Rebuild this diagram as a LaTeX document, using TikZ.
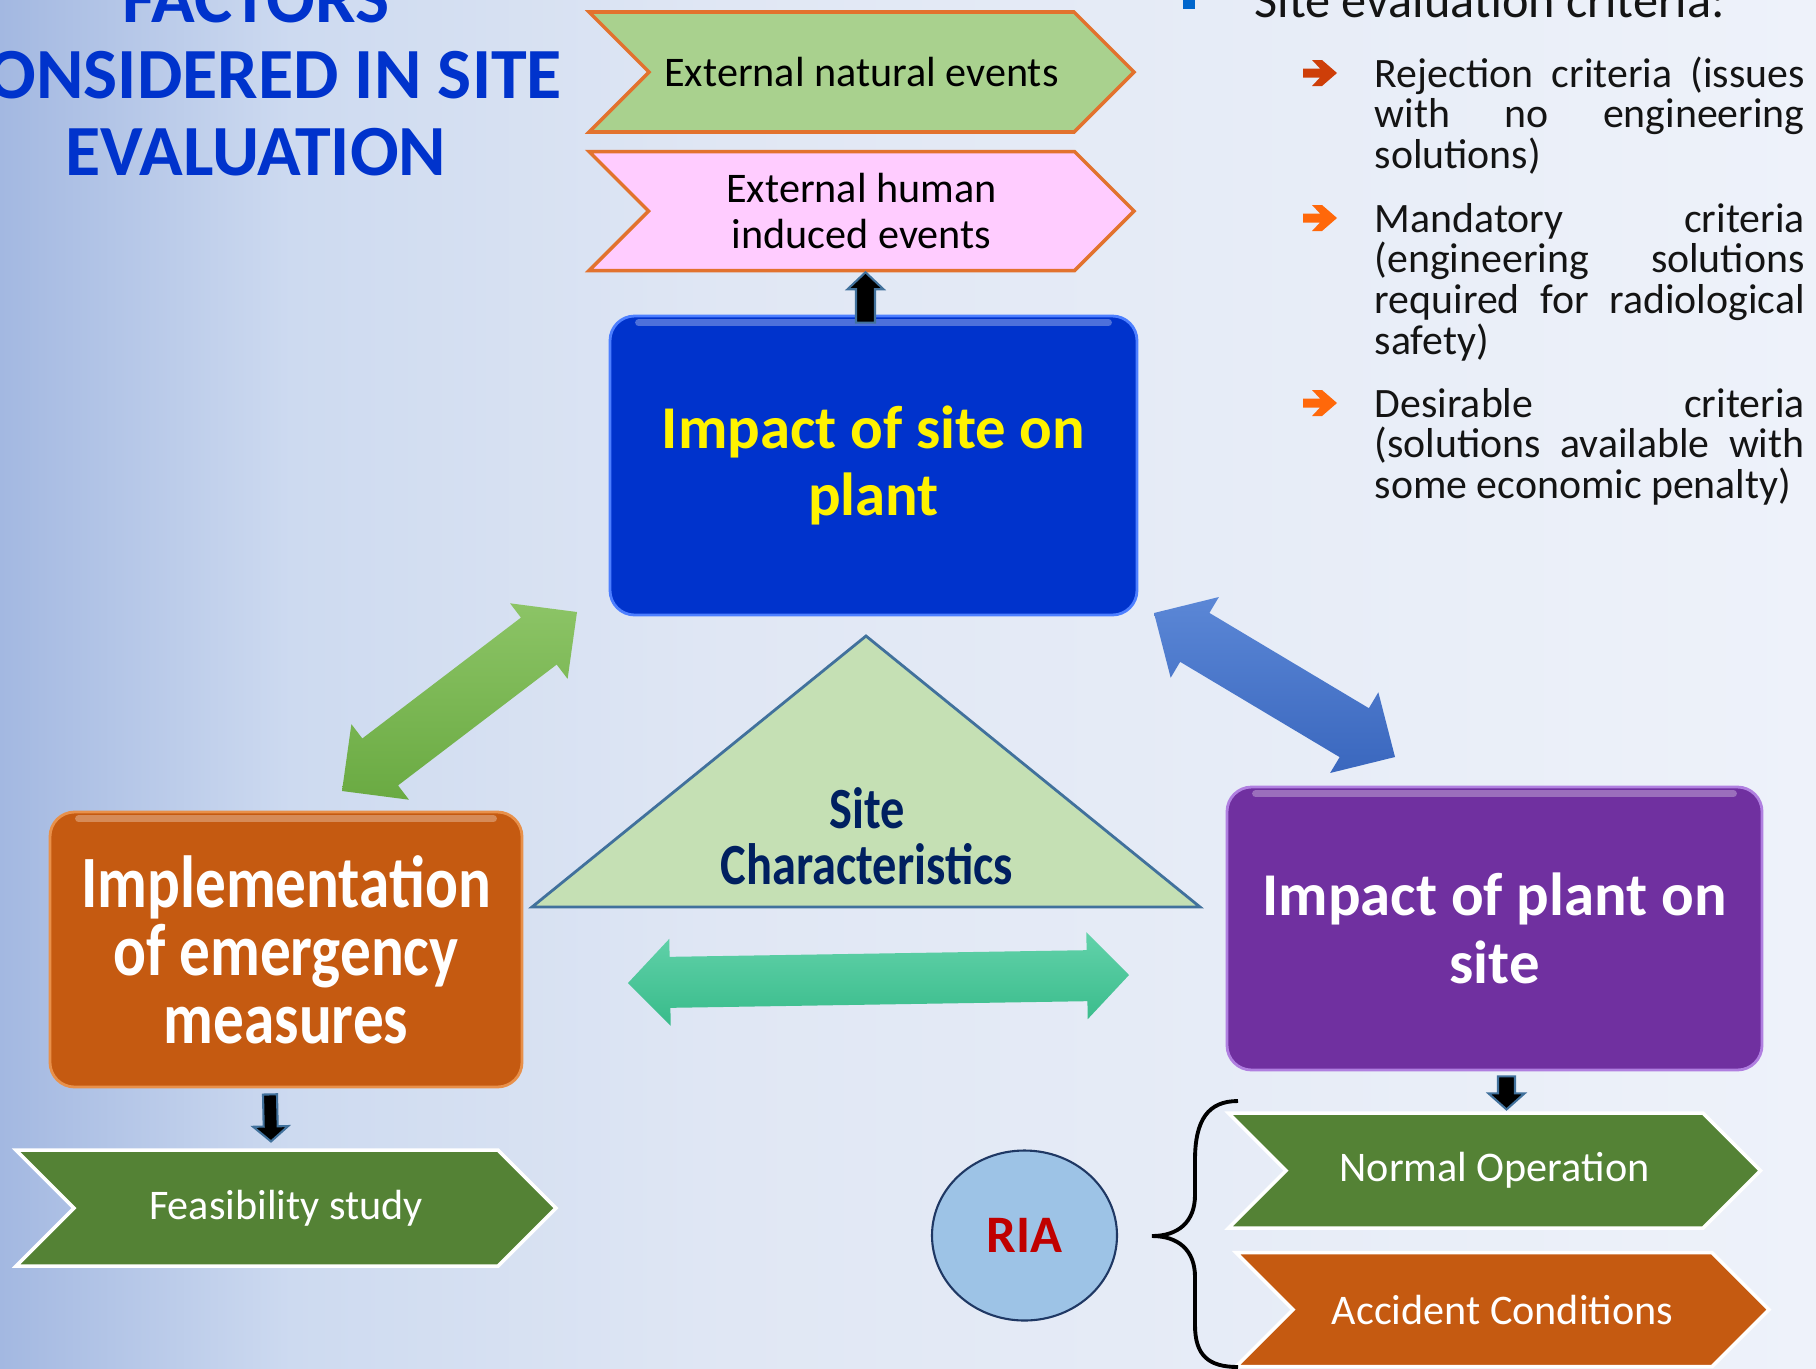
\documentclass[tikz,border=0pt]{standalone}
\usepackage{fontspec}
\setmainfont{Carlito}
\newfontfamily\narrowfont[FakeStretch=0.83]{Carlito}
\usetikzlibrary{positioning}
\usetikzlibrary{calc}
\usetikzlibrary{shapes.symbols}
\usetikzlibrary{shapes.geometric}

\hbadness=10000
\tolerance=10000
\hyphenpenalty=10000

\definecolor{bgleft}{RGB}{163,184,225}
\definecolor{bgmidA}{RGB}{205,218,240}
\definecolor{bgmidB}{RGB}{224,231,244}
\definecolor{bgright}{RGB}{238,242,250}
\definecolor{titleblue}{RGB}{0,51,204}
\definecolor{listtext}{RGB}{20,20,20}
\definecolor{critred}{RGB}{206,62,8}
\definecolor{critorange}{RGB}{255,104,10}
\definecolor{bulletblue}{RGB}{0,102,204}
\definecolor{natgreen}{HTML}{A9D18E}
\definecolor{humanpink}{HTML}{FFCCFF}
\definecolor{evorange}{RGB}{226,114,46}
\definecolor{siteblue}{HTML}{0033CC}
\definecolor{siteedge}{HTML}{4D7FFF}
\definecolor{plantpurple}{HTML}{7030A0}
\definecolor{purpleedge}{HTML}{B07FE0}
\definecolor{emorange}{HTML}{C55A11}
\definecolor{orangeedge}{HTML}{E8904A}
\definecolor{opgreen}{HTML}{548235}
\definecolor{tritext}{HTML}{002060}
\definecolor{trifill}{HTML}{C5E0B4}
\definecolor{steeledge}{HTML}{41719C}
\definecolor{riablue}{HTML}{9DC3E6}
\definecolor{rianavy}{HTML}{1F3864}
\definecolor{riared}{HTML}{C00000}
\definecolor{greentop}{HTML}{8CC466}
\definecolor{greenbot}{HTML}{6AAA42}
\definecolor{bluetop}{HTML}{5B87D6}
\definecolor{bluebot}{HTML}{3A67BE}
\definecolor{tealtop}{HTML}{62D2AA}
\definecolor{tealbot}{HTML}{38BB8A}

\pgfdeclarehorizontalshading{slidebg}{100bp}{color(0bp)=(bgleft); color(25bp)=(bgleft);
  color(33bp)=(bgmidA); color(45bp)=(bgmidB); color(75bp)=(bgright); color(100bp)=(bgright)}

\tikzset{chevron/.style={signal, signal to=east, signal from=west, signal pointer angle=90,
minimum width=5.45cm, minimum height=1.2cm, inner sep=0pt, line width=1pt,
align=center, font=\fontsize{12}{13.3}\selectfont}}
\tikzset{bigbox/.style={rectangle, rounded corners=7pt, line width=0.8pt, inner sep=0pt,
align=center, font=\bfseries\fontsize{17.3}{19.3}\selectfont}}
\tikzset{gloss/.style={draw=white, opacity=0.3, line width=2pt, line cap=round}}
\tikzset{critem/.style={anchor=base west, inner sep=0pt, text=listtext,
font=\fontsize{11.9}{11.6}\selectfont}}
\tikzset{smallarrow/.style={fill=black, draw=steeledge, line width=0.6pt}}
\tikzset{curlybrace/.style={draw=black, line width=1.1pt}}

% fat arrow with one head: style, tail, tip, head length, head half width, shaft half width
\newcommand{\blockarrow}[6][]{%
  \filldraw[#1] (#2) -- ($(#2)!#6!90:(#3)$) -- ($(#3)!#4!(#2)!#6!-90:(#2)$)
    -- ($(#3)!#4!(#2)!#5!-90:(#2)$) -- (#3) -- ($(#3)!#4!(#2)!#5!90:(#2)$)
    -- ($(#3)!#4!(#2)!#6!90:(#2)$) -- ($(#2)!#6!-90:(#3)$) -- cycle;}
% fat arrow with two heads, same arguments
\newcommand{\doublearrow}[6][]{%
  \shade[#1] (#2) -- ($(#2)!#4!(#3)!#5!90:(#3)$) -- ($(#2)!#4!(#3)!#6!90:(#3)$)
    -- ($(#3)!#4!(#2)!#6!-90:(#2)$) -- ($(#3)!#4!(#2)!#5!-90:(#2)$) -- (#3)
    -- ($(#3)!#4!(#2)!#5!90:(#2)$) -- ($(#3)!#4!(#2)!#6!90:(#2)$)
    -- ($(#2)!#4!(#3)!#6!-90:(#3)$) -- ($(#2)!#4!(#3)!#5!-90:(#3)$) -- cycle;}
% light band along the top of a box
\newcommand{\glossy}[1]{%
  \draw[gloss] ([xshift=0.3cm,yshift=-0.08cm]#1.north west) -- ([xshift=-0.3cm,yshift=-0.08cm]#1.north east);}
% bullet arrow in front of a criterion
\newcommand{\critarrow}[2]{%
  \fill[#1, shift={([xshift=-0.71cm,yshift=0.14cm]#2.base west)}]
    (0,0.045) -- (0.17,0.045) -- (0.09,0.13) -- (0.19,0.13) -- (0.34,0)
    -- (0.19,-0.13) -- (0.09,-0.13) -- (0.17,-0.045) -- (0,-0.045) -- cycle;}

\begin{document}
\begin{tikzpicture}

    \useasboundingbox (0,0) rectangle (18.16,-13.68);
    \clip (0,0) rectangle (18.16,-13.68);
    \shade[shading=slidebg] (0,0) rectangle (18.16,-13.68);

    % heading
    \node[anchor=base, inner sep=0pt, text=titleblue, font=\bfseries\fontsize{20.5}{21.9}\selectfont] (title) at (2.56,-0.22)
        {\parbox[t]{8cm}{\centering FACTORS\\CONSIDERED IN SITE\\EVALUATION}};

    % external events
    \node[chevron, fill=natgreen, draw=evorange] (natural) at (8.615,-0.72) {External natural events};
    \node[chevron, fill=humanpink, draw=evorange, minimum height=1.19cm, below=0.16cm of natural] (human) {External human\\induced events};

    % the three main boxes
    \node[bigbox, fill=siteblue, draw=siteedge, text=yellow, minimum width=5.27cm, minimum height=2.99cm] (siteonplant) at (8.735,-4.655) {Impact of site on\\plant};
    \node[bigbox, fill=plantpurple, draw=purpleedge, text=white, minimum width=5.35cm, minimum height=2.83cm] (plantonsite) at (14.945,-9.285) {Impact of plant on\\site};
    \node[bigbox, fill=emorange, draw=orangeedge, text=white, minimum width=4.72cm, minimum height=2.75cm,
        font=\narrowfont\bfseries\fontsize{21}{19.3}\selectfont] (emergency) at (2.86,-9.495) {Implementation\\of emergency\\measures};
    \glossy{siteonplant}
    \glossy{plantonsite}
    \glossy{emergency}

    % outcomes
    \node[chevron, fill=opgreen, draw=white, text=white, minimum width=5.40cm, minimum height=1.16cm, below=0.6cm of emergency] (feasibility) {Feasibility study};
    \node[chevron, fill=opgreen, draw=white, text=white, minimum width=5.32cm, minimum height=1.15cm, below=0.4cm of plantonsite] (normalop) {Normal Operation};
    \node[chevron, fill=emorange, draw=white, text=white, minimum width=5.33cm, minimum height=1.14cm, below=0.21cm of normalop, xshift=0.08cm] (accident) {Accident Conditions};

    % site characteristics
    \filldraw[fill=trifill, draw=steeledge, line width=0.8pt] (5.32,-9.07) -- (8.66,-6.36) -- (12.00,-9.07) -- cycle;
    \node[anchor=base, inner sep=0pt, text=tritext, font=\narrowfont\bfseries\fontsize{16.6}{16.2}\selectfont] (sitechar) at (8.67,-8.28)
        {\parbox[t]{4cm}{\centering Site\\Characteristics}};

    % links between the boxes
    \coordinate (greenlow) at (3.42,-7.91);
    \coordinate (greenhigh) at (5.77,-6.12);
    \doublearrow[top color=greentop, bottom color=greenbot]{greenlow}{greenhigh}{0.48cm}{0.475cm}{0.295cm}
    \coordinate (bluehigh) at (11.54,-6.13);
    \coordinate (bluelow) at (13.95,-7.57);
    \doublearrow[top color=bluetop, bottom color=bluebot]{bluehigh}{bluelow}{0.475cm}{0.47cm}{0.285cm}
    \coordinate (tealleft) at (6.28,-9.83);
    \coordinate (tealright) at (11.29,-9.75);
    \doublearrow[top color=tealtop, bottom color=tealbot]{tealleft}{tealright}{0.42cm}{0.435cm}{0.255cm}

    \coordinate (upTail) at ($(siteonplant.north -| human.south)+(0.04,-0.08)$);
    \coordinate (upTip) at ($(human.south)+(0.04,0)$);
    \blockarrow[smallarrow]{upTail}{upTip}{0.17cm}{0.18cm}{0.095cm}
    \coordinate (emTail) at ($(emergency.south)+(-0.16,-0.06)$);
    \coordinate (emTip) at ($(feasibility.north)+(-0.15,0.07)$);
    \blockarrow[smallarrow]{emTail}{emTip}{0.15cm}{0.175cm}{0.07cm}
    \coordinate (plTail) at ($(plantonsite.south)+(0.12,-0.05)$);
    \coordinate (plTip) at ($(normalop.north)+(0.12,0.02)$);
    \blockarrow[smallarrow]{plTail}{plTip}{0.16cm}{0.18cm}{0.085cm}

    % radiological impact
    \node[ellipse, fill=riablue, draw=rianavy, line width=0.6pt, minimum width=1.85cm, minimum height=1.70cm,
        text=riared, font=\bfseries\fontsize{15}{15}\selectfont] (ria) at (10.245,-12.355) {RIA};
    \draw[curlybrace] (12.38,-11.01) .. controls (12.08,-11.01) and (11.95,-11.2) .. (11.95,-11.6)
        -- (11.95,-11.95) .. controls (11.95,-12.22) and (11.78,-12.36) .. (11.52,-12.36)
        .. controls (11.78,-12.36) and (11.95,-12.50) .. (11.95,-12.77)
        -- (11.95,-13.25) .. controls (11.95,-13.55) and (12.08,-13.67) .. (12.38,-13.67);

    % criteria
    \fill[bulletblue] (11.83,0.03) rectangle (11.95,-0.09);
    \node[anchor=base west, inner sep=0pt, text=listtext, font=\fontsize{14.3}{16}\selectfont] (crithead) at (12.54,-0.17) {Site evaluation criteria:};
    \node[critem] (crit1) at (13.74,-0.87) {\parbox[t]{4.30cm}{Rejection criteria (issues\linebreak with no engineering\linebreak solutions)}};
    \node[critem] (crit2) at (13.74,-2.32) {\parbox[t]{4.30cm}{Mandatory criteria\linebreak (engineering solutions\linebreak required for radiological\linebreak safety)}};
    \node[critem] (crit3) at (13.74,-4.17) {\parbox[t]{4.30cm}{Desirable criteria\linebreak (solutions available with\linebreak some economic penalty)}};
    \critarrow{critred}{crit1}
    \critarrow{critorange}{crit2}
    \critarrow{critorange}{crit3}

\end{tikzpicture}
\end{document}
